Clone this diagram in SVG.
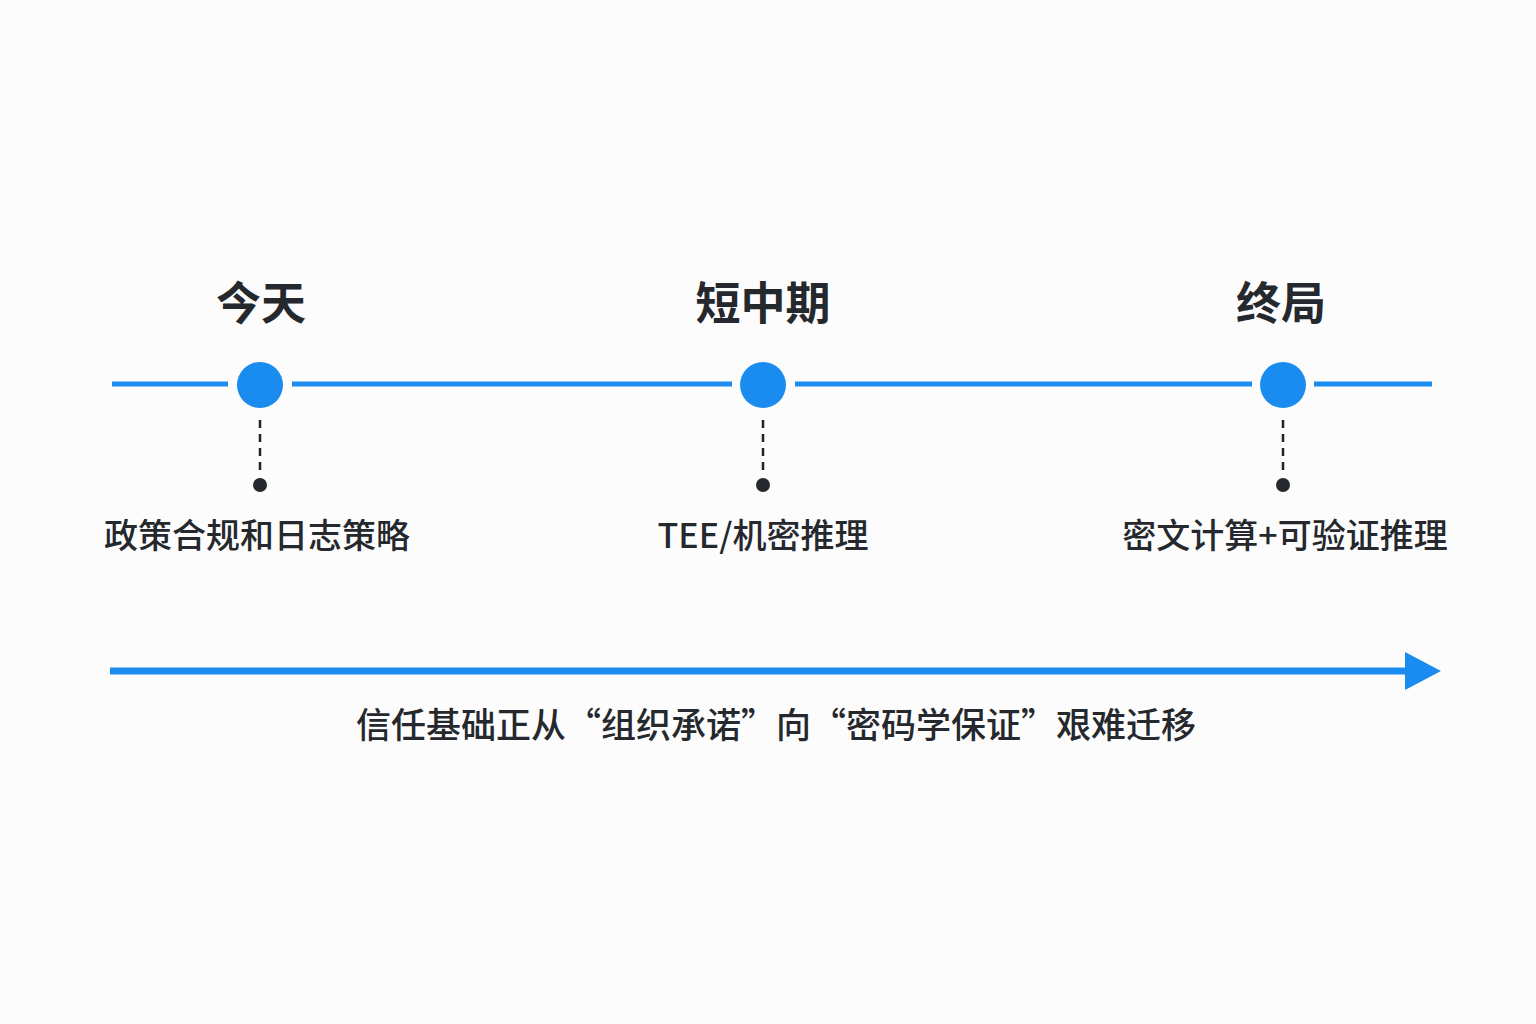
<svg xmlns="http://www.w3.org/2000/svg" width="1536" height="1024" viewBox="0 0 1536 1024">
<style>
.ln{stroke:#1a8cf0;stroke-width:5;fill:none}
.dot{fill:#1a8cf0}
.dash{stroke:#222;stroke-width:2.5;stroke-dasharray:8,6}
.sm{fill:#25282c}
.t{font-family:"Noto Sans CJK SC","Noto Sans",sans-serif;fill:#25282c;text-anchor:middle}
.h{font-size:45px;font-weight:700}
.l{font-size:34px;font-weight:500}
.c{font-size:35px;font-weight:500}
</style>
<defs><marker id="ar" markerWidth="36" markerHeight="38" refX="1" refY="19" markerUnits="userSpaceOnUse" orient="auto"><path d="M0,0 L36,19 L0,38 Z" fill="#1a8cf0"/></marker></defs>
<rect width="1536" height="1024" fill="#fcfcfd"/>
<g id="connectors">
<line class="ln" x1="112" y1="384" x2="228" y2="384"/>
<line class="ln" x1="292" y1="384" x2="732" y2="384"/>
<line class="ln" x1="795" y1="384" x2="1252" y2="384"/>
<line class="ln" x1="1314" y1="384" x2="1432" y2="384"/>
<line class="ln" x1="110" y1="671" x2="1406" y2="671" style="stroke-width:7" marker-end="url(#ar)"/>
</g>
<g id="n1"><text class="t h" x="261" y="320">今天</text><circle class="dot" cx="260" cy="385" r="23"/><line class="dash" x1="260" y1="420" x2="260" y2="474"/><circle class="sm" cx="260" cy="485" r="7"/><text class="t l" x="257" y="548">政策合规和日志策略</text></g>
<g id="n2"><text class="t h" x="763" y="320">短中期</text><circle class="dot" cx="763" cy="385" r="23"/><line class="dash" x1="763" y1="420" x2="763" y2="474"/><circle class="sm" cx="763" cy="485" r="7"/><text class="t l" x="763" y="548">TEE/机密推理</text></g>
<g id="n3"><text class="t h" x="1281" y="320">终局</text><circle class="dot" cx="1283" cy="385" r="23"/><line class="dash" x1="1283" y1="420" x2="1283" y2="474"/><circle class="sm" cx="1283" cy="485" r="7"/><text class="t l" x="1285" y="548">密文计算+可验证推理</text></g>
<g id="caption"><text class="t c" x="776" y="738">信任基础正从“组织承诺”向“密码学保证”艰难迁移</text></g>
</svg>
